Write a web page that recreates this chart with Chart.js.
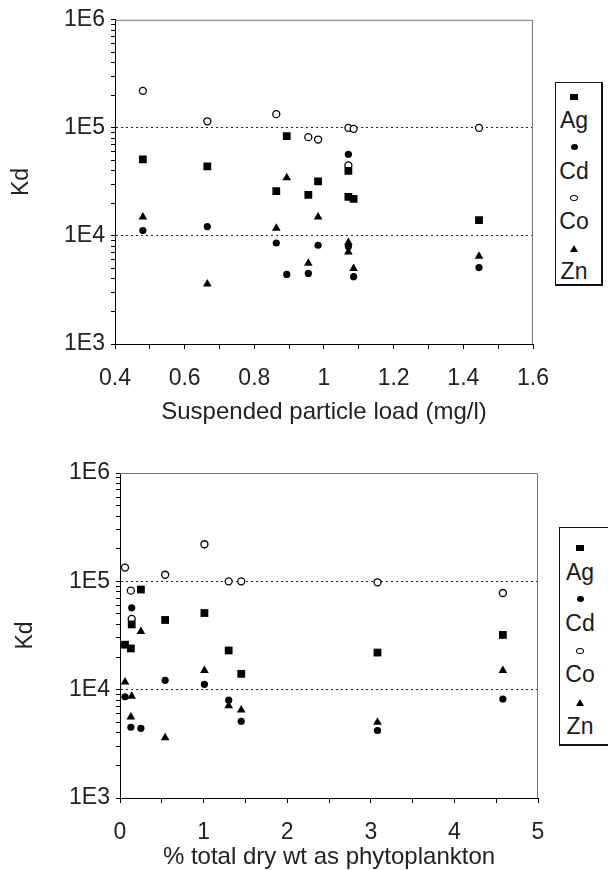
<!DOCTYPE html>
<html>
<head>
<meta charset="utf-8">
<title>Kd vs particle load and phytoplankton</title>
<script src="https://cdn.jsdelivr.net/npm/chart.js@4.4.0/dist/chart.umd.min.js"></script>
<style>
    body {
        margin: 0;
        width: 608px;
        height: 870px;
        position: relative;
        overflow: hidden;
        background: #fff;
        font-family: "Liberation Sans", Arial, sans-serif;
        color: #1a1a1a;
    }
    .chart-box { position: absolute; left: 0; width: 608px; }
    .legend {
        position: absolute;
        border: 1px solid #111;
        border-right-width: 2px;
        border-bottom-width: 2px;
        background: #fff;
        font-size: 23px;
        box-sizing: border-box;
    }
    .legend__row { width: 30px; text-align: center; }
    .mark { display: inline-block; vertical-align: middle; }
    .mark--square { width: 8px; height: 6px; background: #000; }
    .mark--dot { width: 7px; height: 6px; border-radius: 50%; background: #000; }
    .mark--ring { width: 6px; height: 4px; border-radius: 50%; border: 1px solid #000; }
    .mark--tri { width: 0; height: 0; border-left: 4px solid transparent; border-right: 4px solid transparent; border-bottom: 7px solid #000; }
</style>
</head>
<body>
<div class="chart-box" style="top:0;height:427px"><canvas id="loadChart" width="608" height="427"></canvas></div>
<div class="chart-box" style="top:440px;height:432px"><canvas id="phytoChart" width="608" height="432"></canvas></div>
<div class="legend" id="loadLegend" style="left:555px;top:82px;width:48px;height:204px;padding:0 0 0 3px"></div>
<div class="legend" id="phytoLegend" style="left:559px;top:527px;width:70px;height:219px;padding:6px 0 0 5px"></div>

<script>
// one entry per sample
var particleLoad = [0.48, 0.665, 0.863, 0.893, 0.955, 0.983, 1.07, 1.07, 1.085, 1.445];
var phytoPercent = [1.01, 0.54, 0.06, 0.25, 0.13, 4.58, 0.14, 1.30, 3.08, 1.45];

var kdAg = [51000, 44000, 26000, 84000, 24000, 32000, 40000, 23000, 22000, 14000];
var kdCd = [11200, 12200, 8600, 4400, 4500, 8200, 57000, 8000, 4200, 5100];
var kdCo = [220000, 115000, 134000, null, 82000, 78000, 45000, 100000, 98000, 100000];
var kdZn = [15000, 3600, 11800, 34500, 5600, 15000, 8700, 7100, 5000, 6500];

var metals = ['Ag', 'Cd', 'Co', 'Zn'];
var kdDecades = [3, 4, 5, 6];

(function () {
    'use strict';

    var fontFamily = '"Liberation Sans", Arial, sans-serif',
        tickFont = { family: fontFamily, size: 23 },
        titleFont = { family: fontFamily, size: 24 },
        markStyles = {
            Ag: { pointStyle: 'rect', pointRadius: 5.5, backgroundColor: '#000', borderColor: '#000', borderWidth: 0 },
            Cd: { pointStyle: 'circle', pointRadius: 3.6, backgroundColor: '#000', borderColor: '#000', borderWidth: 0 },
            Co: { pointStyle: 'circle', pointRadius: 3.5, backgroundColor: '#fff', borderColor: '#000', borderWidth: 1.3 },
            Zn: { pointStyle: 'triangle', pointRadius: 5, backgroundColor: '#000', borderColor: '#000', borderWidth: 0 }
        },
        kdSeries = { Ag: kdAg, Cd: kdCd, Co: kdCo, Zn: kdZn },

        logTickValues = function () {
            var values = [], i, m;

            for (i = 0; i < kdDecades.length - 1; i++) {
                for (m = 1; m < 10; m++) {
                    values.push(m * Math.pow(10, kdDecades[i]));
                }
            }
            values.push(Math.pow(10, kdDecades[kdDecades.length - 1]));

            return values;
        },

        exponentOf = function (value) {
            var e = Math.log10(value);
            return Math.abs(e - Math.round(e)) < 1e-9 ? Math.round(e) : null;
        },

        buildDatasets = function (xValues) {
            return metals.map(function (metal) {
                var points = [];

                kdSeries[metal].forEach(function (kd, i) {
                    if (kd !== null) {
                        points.push({ x: xValues[i], y: kd });
                    }
                });

                return Object.assign({ label: metal, data: points, pointHoverRadius: 4 }, markStyles[metal]);
            });
        },

        // thin grey frame on the top and right of the plot area
        frame = {
            id: 'frame',
            afterDatasetsDraw: function (chart) {
                var a = chart.chartArea, ctx = chart.ctx;

                ctx.save();
                ctx.strokeStyle = '#777';
                ctx.lineWidth = 1;
                ctx.beginPath();
                ctx.moveTo(a.left, a.top + 0.5);
                ctx.lineTo(a.right - 0.5, a.top + 0.5);
                ctx.lineTo(a.right - 0.5, a.bottom);
                ctx.stroke();
                ctx.restore();
            }
        },

        makeChart = function (canvasId, cfg) {
            var yTicks = logTickValues();

            return new Chart(document.getElementById(canvasId), {
                type: 'scatter',
                data: { datasets: buildDatasets(cfg.xValues) },
                options: {
                    responsive: false,
                    animation: false,
                    layout: { padding: cfg.padding },
                    plugins: { legend: { display: false }, tooltip: { enabled: false } },
                    scales: {
                        x: {
                            type: 'linear',
                            min: cfg.xMin,
                            max: cfg.xMax,
                            afterFit: function (scale) { scale.height = cfg.xAxisHeight; },
                            ticks: {
                                stepSize: cfg.xStep,
                                autoSkip: false,
                                maxRotation: 0,
                                padding: 16,
                                font: tickFont,
                                color: '#222',
                                callback: cfg.xLabel
                            },
                            grid: { drawOnChartArea: false, tickLength: 5, tickColor: '#000' },
                            border: { color: '#000', width: 1 },
                            title: { display: true, text: cfg.xTitle, font: titleFont, color: '#222', padding: { top: 4, bottom: 0 } }
                        },
                        y: {
                            type: 'logarithmic',
                            min: yTicks[0],
                            max: yTicks[yTicks.length - 1],
                            afterFit: function (scale) { scale.width = cfg.yAxisWidth; },
                            afterBuildTicks: function (scale) {
                                scale.ticks = yTicks.map(function (v) {
                                    return { value: v, major: exponentOf(v) !== null };
                                });
                            },
                            ticks: {
                                autoSkip: false,
                                padding: 6,
                                font: tickFont,
                                color: '#222',
                                callback: function (value) {
                                    var e = exponentOf(value);
                                    return e === null ? '' : '1E' + e;
                                }
                            },
                            grid: {
                                tickLength: 4,
                                tickColor: '#000',
                                lineWidth: 1,
                                color: function (ctx) {
                                    var v = ctx.tick && ctx.tick.value;
                                    return (v === 1e4 || v === 1e5) ? '#222' : 'rgba(0,0,0,0)';
                                }
                            },
                            border: { color: '#000', width: 1, dash: [2, 3] },
                            title: { display: true, text: 'Kd', font: { family: fontFamily, size: 23 }, color: '#222', padding: { top: 0, bottom: 4 } }
                        }
                    }
                },
                plugins: [frame]
            });
        },

        drawLegend = function (id, rowHeight) {
            var box = document.getElementById(id),
                marks = { Ag: 'square', Cd: 'dot', Co: 'ring', Zn: 'tri' },
                row = '<div class="legend__row" style="height:' + rowHeight + 'px;line-height:' + rowHeight + 'px">',
                html = '';

            metals.forEach(function (metal) {
                html += row + '<span class="mark mark--' + marks[metal] + '"></span></div>';
                html += row + metal + '</div>';
            });

            box.innerHTML = html;
        };

    makeChart('loadChart', {
        xValues: particleLoad,
        xMin: 0.4, xMax: 1.6, xStep: 0.1,
        xTitle: 'Suspended particle load (mg/l)',
        xLabel: function (value) {
            var tenths = Math.round(value * 10);
            if (tenths % 2 !== 0) { return ''; }
            return tenths % 10 === 0 ? String(tenths / 10) : (tenths / 10).toFixed(1);
        },
        padding: { left: 8, right: 75, top: 18, bottom: 0 },
        yAxisWidth: 107,
        xAxisHeight: 83
    });

    makeChart('phytoChart', {
        xValues: phytoPercent,
        xMin: 0, xMax: 5, xStep: 0.5,
        xTitle: '% total dry wt as phytoplankton',
        xLabel: function (value) {
            return Math.abs(value - Math.round(value)) < 1e-9 ? String(Math.round(value)) : '';
        },
        padding: { left: 12, right: 70, top: 33, bottom: 0 },
        yAxisWidth: 108,
        xAxisHeight: 74
    });

    drawLegend('loadLegend', 25.2);
    drawLegend('phytoLegend', 25.7);
}());
</script>
</body>
</html>
